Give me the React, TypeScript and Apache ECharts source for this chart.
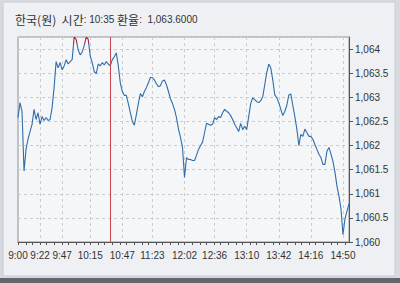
import React, { useEffect, useRef } from "react";
import * as echarts from "echarts";

// Price samples (KRW per USD), equally spaced in sample order, 9:00 → ~14:55
const prices: number[] = [
  1062.58, 1062.89, 1062.71, 1061.47, 1061.92, 1062.13, 1062.29, 1062.44, 1062.75, 1062.54,
  1062.68, 1062.44, 1062.6, 1062.52, 1062.58, 1062.52, 1062.54, 1062.79, 1063.2, 1063.74,
  1063.61, 1063.72, 1063.57, 1063.65, 1063.78, 1063.69, 1063.74, 1063.78, 1064.25, 1064.2,
  1063.98, 1063.88, 1063.94, 1064.07, 1064.25, 1064.2, 1063.86, 1063.72, 1063.53, 1063.49,
  1063.69, 1063.65, 1063.72, 1063.67, 1063.74, 1063.69, 1063.65, 1063.78, 1063.84, 1063.92,
  1063.65, 1063.3, 1063.12, 1063.04, 1063.04, 1062.87, 1062.68, 1062.5, 1062.42, 1062.64,
  1062.87, 1063.08, 1063.01, 1063.12, 1063.2, 1063.3, 1063.41, 1063.41, 1063.36, 1063.28,
  1063.22, 1063.24, 1063.34, 1063.36, 1063.26, 1063.12, 1062.97, 1062.87, 1062.75, 1062.58,
  1062.34, 1062.17, 1061.96, 1061.34, 1061.75, 1061.71, 1061.71, 1061.69, 1061.69, 1061.8,
  1061.92, 1062.0, 1062.07, 1062.27, 1062.46, 1062.44, 1062.42, 1062.44, 1062.58, 1062.54,
  1062.6, 1062.58, 1062.68, 1062.75, 1062.71, 1062.68, 1062.62, 1062.54, 1062.44, 1062.37,
  1062.29, 1062.46, 1062.33, 1062.4, 1062.33, 1062.6, 1062.87, 1062.99, 1062.95, 1062.91,
  1062.89, 1062.93, 1063.01, 1063.26, 1063.51, 1063.69, 1063.61, 1063.36, 1063.05, 1062.99,
  1062.89, 1062.75, 1062.62, 1062.71, 1062.83, 1063.05, 1063.07, 1062.83, 1062.6, 1062.34,
  1062.0, 1062.23, 1062.19, 1062.34, 1062.27, 1062.19, 1062.19, 1062.13, 1062.02, 1061.92,
  1061.82, 1061.75, 1061.61, 1061.61, 1061.88, 1061.96, 1061.82, 1061.67, 1061.45, 1061.16,
  1060.95, 1060.69, 1060.15, 1060.48, 1060.64, 1060.79,
];

// Time tick labels and the sample index at which each is shown
const timeLabels: string[] = ["9:00", "9:22", "9:47", "10:15", "10:47", "11:23", "12:02", "12:36", "13:10", "13:42", "14:16", "14:50"];
const timeIndex: number[] = [0, 11, 22, 36, 52, 67, 83, 98, 114, 130, 146, 162];

// Y-axis range
const yMin = 1060;
const yMax = 1064.25;
const yStep = 0.5;

// Cursor (selected time)
const cursorTime = "10:35";
const cursorPrice = "1,063.6000";
const cursorIndex = 46;

const minorTickStep = 3.62;

const fmtPrice = (v: number) => {
  const s = String(v);
  return s.slice(0, 1) + "," + s.slice(1);
};

export default function App() {
  const ref = useRef<HTMLDivElement>(null);
  useEffect(() => {
    if (!ref.current) return;
    const chart = echarts.init(ref.current, undefined, { renderer: "svg" });
    const n = prices.length;
    const categories = prices.map((_, i) => String(i));
    const labelSet = new Set(timeIndex);
    const gridSet = new Set(timeIndex.slice(1));
    const minorSet = new Set<number>();
    for (let k = 0; k * minorTickStep <= n - 1 + 0.001; k++) minorSet.add(Math.round(k * minorTickStep));
    const font = "'Liberation Sans', Arial, sans-serif";
    const cjk = "'Noto Sans CJK KR', 'Liberation Sans', sans-serif";

    chart.setOption({
      animation: false,
      backgroundColor: "#d6dadf",
      graphic: [
        {
          type: "rect",
          z: -10,
          silent: true,
          shape: { x: 3, y: 2, width: 392, height: 274 },
          style: { fill: "#eef0f3", stroke: "#c9cdd2", lineWidth: 1 },
        },
        {
          type: "rect",
          z: -10,
          silent: true,
          shape: { x: 0, y: 278, width: 400, height: 5 },
          style: { fill: "#62666b" },
        },
        {
          type: "text",
          left: 15,
          top: 13,
          style: {
            text: `{k|한국(원)  시간}{n|: ${cursorTime} }{k|환율}{n|:  ${cursorPrice}}`,
            rich: {
              k: { fontFamily: cjk, fontSize: 12, fill: "#333" },
              n: { fontFamily: font, fontSize: 10, fill: "#333" },
            },
          },
        },
      ],
      grid: {
        left: 18,
        right: 51,
        top: 37,
        bottom: 41,
        show: true,
        backgroundColor: "#f5f6f8",
        borderColor: "#8e9296",
        borderWidth: 1,
      },
      visualMap: {
        show: false,
        type: "piecewise",
        dimension: 1,
        seriesIndex: 0,
        pieces: [
          { gt: 1064.1, lte: 1070, color: "#a3243c" },
          { gte: 1050, lte: 1064.1, color: "#2f6dab" },
        ],
        outOfRange: { color: "#2f6dab" },
      },
      xAxis: {
        type: "category",
        data: categories,
        boundaryGap: false,
        axisLine: { show: true, lineStyle: { color: "#555", width: 1 } },
        axisTick: {
          show: true,
          length: 3,
          lineStyle: { color: "#555" },
          interval: (i: number) => minorSet.has(i),
        },
        splitLine: {
          show: true,
          interval: (i: number) => gridSet.has(i),
          lineStyle: { color: "#c9ccd0", type: [3, 3], width: 1 },
        },
        axisLabel: {
          interval: (i: number) => labelSet.has(i),
          formatter: (_v: string, i: number) => {
            const k = timeIndex.indexOf(i);
            return k >= 0 ? timeLabels[k] : "";
          },
          margin: 8,
          color: "#333",
          fontSize: 10,
          fontFamily: font,
        },
      },
      yAxis: {
        type: "value",
        position: "right",
        min: yMin,
        max: yMax,
        interval: yStep,
        axisLine: { show: true, lineStyle: { color: "#555", width: 1 } },
        axisTick: { show: true, length: 4, lineStyle: { color: "#555" } },
        splitLine: { show: true, lineStyle: { color: "#c9ccd0", type: [3, 3], width: 1 } },
        axisLabel: {
          showMaxLabel: false,
          formatter: (v: number) => (Math.abs(v / yStep - Math.round(v / yStep)) < 1e-6 ? fmtPrice(v) : ""),
          margin: 6,
          color: "#333",
          fontSize: 10,
          fontFamily: font,
        },
      },
      series: [
        {
          type: "line",
          data: prices,
          showSymbol: false,
          symbol: "none",
          lineStyle: { width: 1.1 },
          clip: true,
          markLine: {
            silent: true,
            symbol: "none",
            label: { show: false },
            lineStyle: { color: "#c8464e", type: "solid", width: 1 },
            data: [{ xAxis: cursorIndex }],
          },
        },
      ],
    });
    return () => chart.dispose();
  }, []);
  return (
    <div
      ref={ref}
      style={{ position: "fixed", left: 0, top: 0, width: 400, height: 283 }}
    />
  );
}
